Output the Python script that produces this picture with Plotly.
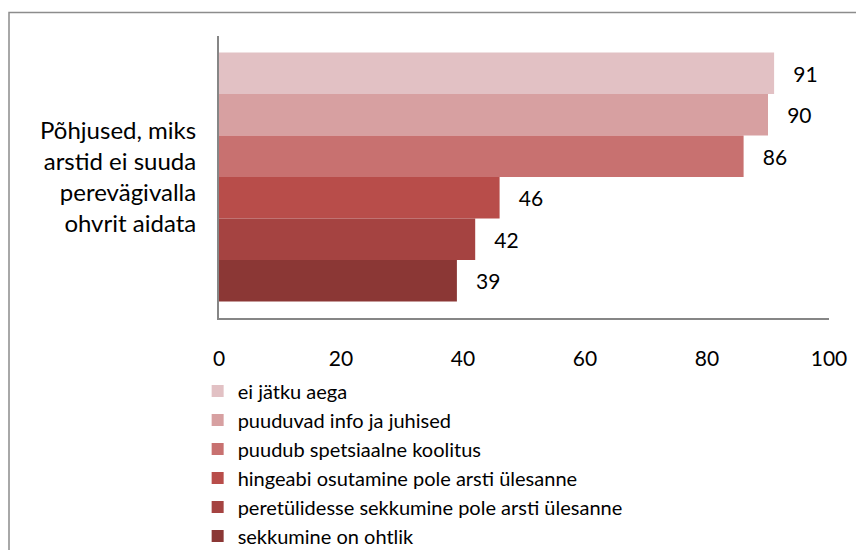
import plotly.graph_objects as go

category = ["Põhjused, miks<br>arstid ei suuda<br>perevägivalla<br>ohvrit aidata"]
series_names = [
    "ei jätku aega",
    "puuduvad info ja juhised",
    "puudub spetsiaalne koolitus",
    "hingeabi osutamine pole arsti ülesanne",
    "peretülidesse sekkumine pole arsti ülesanne",
    "sekkumine on ohtlik",
]
values = [91, 90, 86, 46, 42, 39]
colors = ["#E2C1C4", "#D7A0A1", "#C87170", "#B84D4A", "#A54341", "#8B3735"]
x_ticks = [0, 20, 40, 60, 80, 100]

FONT = "Lato, Carlito, Calibri, sans-serif"

# the page body adds an 8px offset, so the figure is laid out in shifted coordinates
L, R, T, B = 211, 43, 28, 240
PW = 864 - L - R
PH = 550 - T - B

fig = go.Figure()
for name, v, c in zip(series_names, values, colors):
    fig.add_trace(go.Bar(
        y=category, x=[v], name=name, orientation="h",
        marker=dict(color=c, line=dict(width=0)),
        text=[v], texttemplate="   %{x}", textposition="outside",
        textfont=dict(family=FONT, size=21, color="#000000"),
        cliponaxis=False,
    ))

fig.update_layout(
    width=864, height=550,
    margin=dict(l=L, r=R, t=T, b=B, autoexpand=False),
    paper_bgcolor="white", plot_bgcolor="white",
    barmode="group", bargap=0.117, bargroupgap=0,
    font=dict(family=FONT, size=21, color="#000000"),
    showlegend=True,
    legend=dict(
        x=-0.035, y=-0.19, xanchor="left", yanchor="top",
        font=dict(family=FONT, size=20, color="#000000"),
        traceorder="normal", itemwidth=30, tracegroupgap=0,
        bgcolor="rgba(0,0,0,0)",
    ),
    xaxis=dict(
        range=[0, 100], tickvals=x_ticks, ticktext=[str(t) for t in x_ticks],
        showgrid=False, zeroline=False, showline=True, automargin=False,
        linecolor="#868686", linewidth=2, ticks="", ticklabelstandoff=21,
        tickfont=dict(family=FONT, size=21),
    ),
    yaxis=dict(
        type="category", range=[0.5, -0.5], automargin=False,
        showgrid=False, zeroline=False, showline=True,
        linecolor="#868686", linewidth=2, ticks="", ticklabelstandoff=16,
        tickfont=dict(family=FONT, size=24),
    ),
    shapes=[dict(
        type="rect", xref="paper", yref="paper",
        x0=(1 - L) / PW, x1=1.2, y0=-1.0, y1=1 + (T - 4.5) / PH,
        line=dict(color="#8C8C8C", width=1.5), fillcolor="rgba(0,0,0,0)",
        layer="below",
    )],
)

fig.write_html("out.html")
